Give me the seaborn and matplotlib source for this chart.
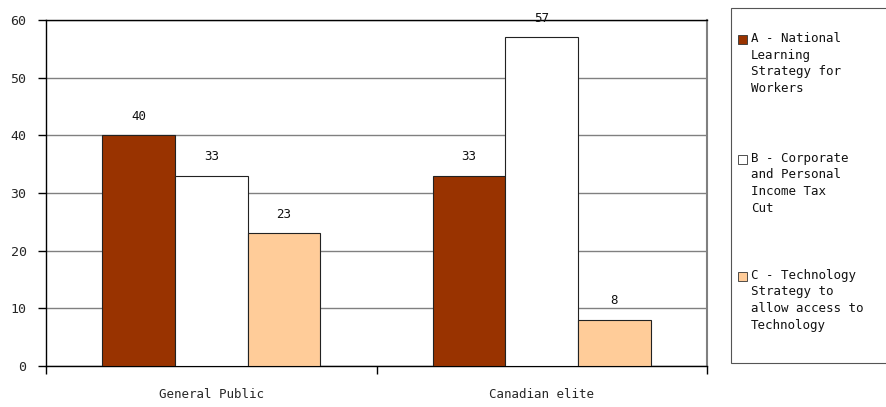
import pandas as pd
import matplotlib.pyplot as plt
import seaborn as sns
from matplotlib.patches import Rectangle

# Data
groups = ["General Public", "Canadian elite"]
options = [
    "A - National\nLearning\nStrategy for\nWorkers",
    "B - Corporate\nand Personal\nIncome Tax\nCut",
    "C - Technology\nStrategy to\nallow access to\nTechnology",
]
option_a = [40, 33]
option_b = [33, 57]
option_c = [23, 8]
colors = ["#993300", "#FFFFFF", "#FFCC99"]

rows = []
for opt, vals in zip(options, [option_a, option_b, option_c]):
    for g, v in zip(groups, vals):
        rows.append({"group": g, "option": opt, "value": v})
df = pd.DataFrame(rows)

sns.set_style("white")
plt.rcParams["font.family"] = ["DejaVu Sans Mono"]

fig = plt.figure(figsize=(8.86, 4.07), dpi=100)
ax = fig.add_axes([46 / 886, 41 / 407, 661 / 886, 346 / 407])

sns.barplot(data=df, x="group", y="value", hue="option", hue_order=options,
            palette=colors, saturation=1, width=0.66, gap=0, edgecolor="#222222",
            linewidth=0.8, legend=False, ax=ax, zorder=3)

for c in ax.containers:
    ax.bar_label(c, padding=9, fontsize=9, color="#111111")

ax.set_ylim(0, 60)
ax.set_xlim(-0.5, 1.5)
ax.set_yticks(range(0, 61, 10))
ax.yaxis.grid(True, color="#808080", linewidth=1, zorder=0)
ax.set_axisbelow(True)
ax.set_xlabel("")
ax.set_ylabel("")

ax.tick_params(axis="y", which="major", length=6, width=1, color="black",
               labelsize=9.5, pad=8, left=True)
ax.tick_params(axis="x", which="major", length=0, labelsize=9, pad=16)
ax.set_xticks([-0.5, 0.5, 1.5], minor=True)
ax.tick_params(axis="x", which="minor", length=6, width=1, color="black", bottom=True)

for side in ["left", "bottom", "top"]:
    ax.spines[side].set_color("black")
    ax.spines[side].set_linewidth(1)
ax.spines["right"].set_color("#808080")
ax.spines["right"].set_linewidth(1.5)

# legend box drawn by hand so the swatch sits on the first line of each label
fig.patches.append(Rectangle((731 / 886, 44 / 407), 160 / 886, 355 / 407,
                             transform=fig.transFigure, facecolor="white",
                             edgecolor="#555555", linewidth=0.8))
tops = [32, 152, 269]
for opt, col, top in zip(options, colors, tops):
    fig.patches.append(Rectangle((738 / 886, 1 - (top + 12) / 407), 9 / 886, 9 / 407,
                                 transform=fig.transFigure, facecolor=col,
                                 edgecolor="#333333", linewidth=0.6))
    fig.text(751 / 886, 1 - top / 407, opt, va="top", ha="left",
             fontsize=9, linespacing=1.35, color="#111111")

fig.savefig("out.png", dpi=100)
